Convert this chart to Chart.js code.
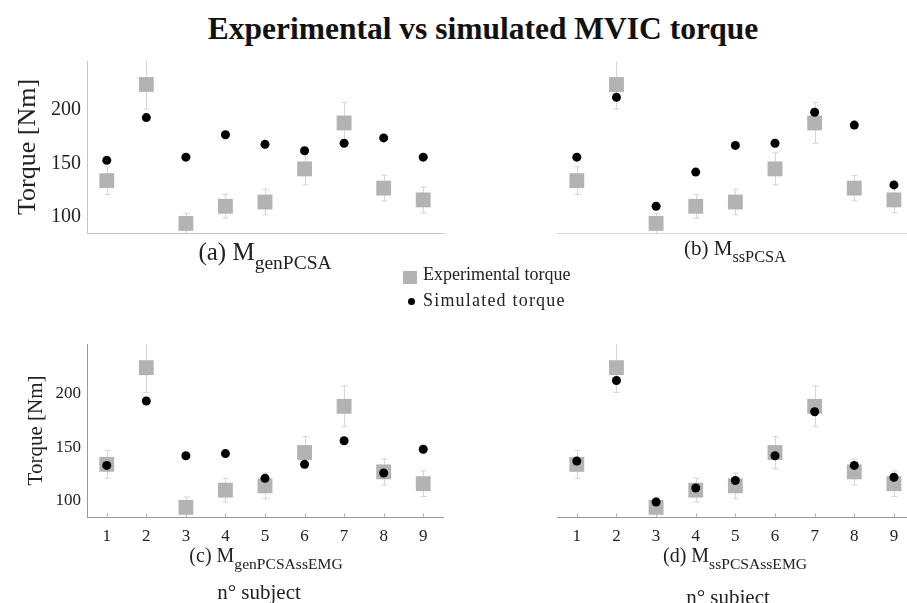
<!DOCTYPE html>
<html>
<head>
<meta charset="utf-8">
<script src="https://cdn.jsdelivr.net/npm/chart.js@4.4.0/dist/chart.umd.min.js"></script>
<style>
  body { margin: 0; background: #fff; }
  #page { position: relative; width: 907px; height: 603px; overflow: hidden; font-family: 'Liberation Serif', serif; color: #222; }
  canvas { position: absolute; }
  .txt { position: absolute; white-space: nowrap; }
  .txt sub { font-size: 0.78em; vertical-align: -0.45em; }
  #title { left: 0; width: 966px; top: 11px; text-align: center; font-weight: bold; font-size: 31.5px; color: #111; }
</style>
</head>
<body>
<div id="page">
  <div id="title" class="txt">Experimental vs simulated MVIC torque</div>

  <canvas id="cA" style="left:0;top:50px" width="460" height="190"></canvas>
  <canvas id="cB" style="left:550px;top:50px" width="357" height="190"></canvas>
  <canvas id="cC" style="left:0;top:335px" width="460" height="268"></canvas>
  <canvas id="cD" style="left:550px;top:335px" width="357" height="268"></canvas>

  <div class="txt" style="left:165px;width:200px;top:238px;text-align:center;font-size:25px">(a) M<sub>genPCSA</sub></div>
  <div class="txt" style="left:635px;width:200px;top:236px;text-align:center;font-size:21px">(b) M<sub>ssPCSA</sub></div>
  <div class="txt" style="left:166px;width:200px;top:544px;text-align:center;font-size:20px">(c) M<sub>genPCSAssEMG</sub></div>
  <div class="txt" style="left:159px;width:200px;top:580px;text-align:center;font-size:21px">n° subject</div>
  <div class="txt" style="left:635px;width:200px;top:544px;text-align:center;font-size:20px">(d) M<sub>ssPCSAssEMG</sub></div>
  <div class="txt" style="left:628px;width:200px;top:585px;text-align:center;font-size:21px">n° subject</div>

  <div style="position:absolute;left:403px;top:271px;width:14px;height:13px;background:#b3b3b3"></div>
  <div class="txt" style="left:423px;top:264px;font-size:18px">Experimental torque</div>
  <div style="position:absolute;left:408px;top:298px;width:7px;height:7px;border-radius:50%;background:#000"></div>
  <div class="txt" style="left:423px;top:290px;font-size:18px;letter-spacing:1.2px">Simulated torque</div>
</div>

<script>
const subjects = [1, 2, 3, 4, 5, 6, 7, 8, 9]
const yTicks = [100, 150, 200]
const expTorque = [134, 224, 94, 110, 114, 145, 188, 127, 116]
const expErr = [13, 23, 9.5, 11, 12, 15, 19, 12, 12]
const simGenPCSA = [153, 193, 156, 177, 168, 162, 169, 174, 156]
const simSsPCSA = [156, 212, 110, 142, 167, 169, 198, 186, 130]
const simGenPCSAssEMG = [133, 193, 142, 144, 121, 134, 156, 126, 148]
const simSsPCSAssEMG = [137, 212, 99, 112, 119, 142, 183, 133, 122]

const serif = 'Liberation Serif'

// error bars for the experimental squares + small inward x ticks
const extras = {
    id: 'extras',
    beforeDatasetsDraw(chart) {
        const ctx = chart.ctx
        const xs = chart.scales.x
        const ys = chart.scales.y
        const a = chart.chartArea
        ctx.save()
        ctx.beginPath()
        ctx.rect(a.left, a.top, a.right - a.left, a.bottom - a.top)
        ctx.clip()
        ctx.strokeStyle = '#d6d6d6'
        ctx.lineWidth = 1
        expTorque.forEach((v, i) => {
            const px = Math.round(xs.getPixelForValue(subjects[i])) + 0.5
            const top = ys.getPixelForValue(v + expErr[i])
            const bot = ys.getPixelForValue(v - expErr[i])
            ctx.beginPath()
            ctx.moveTo(px, top); ctx.lineTo(px, bot)
            ctx.moveTo(px - 3, top); ctx.lineTo(px + 3, top)
            ctx.moveTo(px - 3, bot); ctx.lineTo(px + 3, bot)
            ctx.stroke()
        })
        ctx.restore()
        if (chart.options.plugins.extras.innerTicks) {
            ctx.save()
            ctx.strokeStyle = '#bbb'
            ctx.beginPath()
            subjects.forEach(s => {
                const px = Math.round(xs.getPixelForValue(s)) + 0.5
                ctx.moveTo(px, a.bottom); ctx.lineTo(px, a.bottom - 4)
            })
            ctx.stroke()
            ctx.restore()
        }
    }
}

function makeChart(id, sim, o) {
    return new Chart(document.getElementById(id), {
        type: 'scatter',
        data: {
            datasets: [{
                label: 'Simulated torque',
                data: subjects.map((s, i) => ({ x: s, y: sim[i] })),
                pointStyle: 'circle',
                pointRadius: 4.5,
                backgroundColor: '#000',
                borderWidth: 0,
                order: 0
            }, {
                label: 'Experimental torque',
                data: subjects.map((s, i) => ({ x: s, y: expTorque[i] })),
                pointStyle: 'rect',
                pointRadius: 10.5,
                backgroundColor: '#b3b3b3',
                borderWidth: 0,
                order: 1
            }]
        },
        options: {
            responsive: false,
            animation: false,
            clip: false,
            layout: { padding: o.padding, autoPadding: false },
            plugins: {
                legend: { display: false },
                tooltip: { enabled: false },
                extras: { innerTicks: o.xLabels }
            },
            scales: {
                x: {
                    type: 'linear',
                    min: 0.5,
                    max: o.xMax,
                    afterBuildTicks: (s) => { s.ticks = subjects.map(v => ({ value: v })) },
                    afterFit: (s) => { s.height = o.xH; s.paddingLeft = 0; s.paddingRight = 0 },
                    grid: { display: false, drawTicks: false },
                    border: { display: true, color: o.axisColor, width: 1 },
                    ticks: { display: o.xLabels, color: '#222', padding: 9, font: { family: serif, size: 17 } }
                },
                y: {
                    display: o.yAxis,
                    min: o.yMin,
                    max: o.yMax,
                    afterBuildTicks: (s) => { s.ticks = yTicks.map(v => ({ value: v })) },
                    afterFit: (s) => { s.width = o.yW; s.paddingTop = 0; s.paddingBottom = 0 },
                    grid: { display: false, drawTicks: false },
                    border: { display: true, color: o.axisColor, width: 1 },
                    ticks: { color: '#222', padding: 6, font: { family: serif, size: o.tickSize } },
                    title: {
                        display: true,
                        text: 'Torque [Nm]',
                        color: '#222',
                        font: { family: serif, size: o.titleSize },
                        padding: { top: o.titlePad, bottom: 0 }
                    }
                }
            }
        },
        plugins: [extras]
    })
}

// top row
makeChart('cA', simGenPCSA, {
    padding: { top: 11, right: 17, bottom: 7, left: 0 },
    xMax: 9.5, xH: 0, xLabels: false, yAxis: true, yW: 87,
    yMin: 85, yMax: 246, tickSize: 20, titleSize: 26, titlePad: 13, axisColor: '#c4c4c4'
})
makeChart('cB', simSsPCSA, {
    padding: { top: 11, right: 0, bottom: 7, left: 7 },
    xMax: 9.33, xH: 0, xLabels: false, yAxis: false, yW: 0,
    yMin: 85, yMax: 246, tickSize: 20, titleSize: 26, titlePad: 13, axisColor: '#d8d8d8'
})
// bottom row
makeChart('cC', simGenPCSAssEMG, {
    padding: { top: 9, right: 17, bottom: 46, left: 0 },
    xMax: 9.5, xH: 40, xLabels: true, yAxis: true, yW: 87,
    yMin: 85, yMax: 246, tickSize: 17, titleSize: 21, titlePad: 24, axisColor: '#999'
})
makeChart('cD', simSsPCSAssEMG, {
    padding: { top: 9, right: 0, bottom: 46, left: 7 },
    xMax: 9.33, xH: 40, xLabels: true, yAxis: false, yW: 0,
    yMin: 85, yMax: 246, tickSize: 17, titleSize: 21, titlePad: 24, axisColor: '#999'
})
</script>
</body>
</html>
